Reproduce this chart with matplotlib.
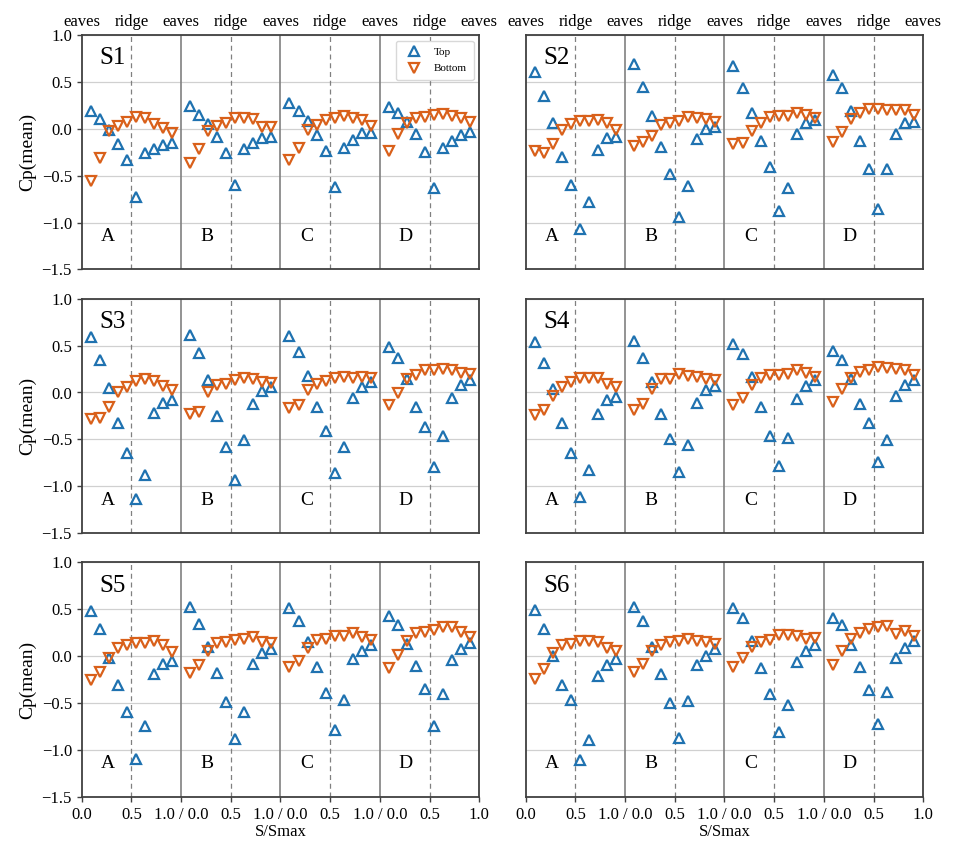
import numpy as np
import matplotlib
matplotlib.use("Agg")
import matplotlib.pyplot as plt
import matplotlib.transforms as mtransforms

plt.rcParams['font.family'] = ['Liberation Serif', 'DejaVu Serif']
plt.rcParams['mathtext.fontset'] = 'stix'

# positions along each segment (S/Smax)
s_pos = [1/11, 2/11, 3/11, 4/11, 5/11, 6/11, 7/11, 8/11, 9/11, 10/11]
segments = ["A", "B", "C", "D"]
cases = ["S1", "S2", "S3", "S4", "S5", "S6"]

# Cp(mean) values, per case, per segment (A, B, C, D)
top = {
    "S1": [[0.19, 0.10, -0.01, -0.16, -0.33, -0.73, -0.26, -0.22, -0.17, -0.15],
           [0.24, 0.15, 0.05, -0.09, -0.26, -0.60, -0.22, -0.15, -0.10, -0.085],
           [0.28, 0.19, 0.08, -0.07, -0.24, -0.62, -0.20, -0.12, -0.05, -0.04],
           [0.235, 0.165, 0.07, -0.06, -0.245, -0.63, -0.21, -0.13, -0.07, -0.035]],
    "S2": [[0.61, 0.35, 0.06, -0.30, -0.60, -1.07, -0.78, -0.23, -0.10, -0.09],
           [0.69, 0.45, 0.14, -0.19, -0.48, -0.94, -0.61, -0.11, 0.00, 0.02],
           [0.67, 0.43, 0.17, -0.13, -0.41, -0.88, -0.63, -0.06, 0.06, 0.09],
           [0.57, 0.44, 0.19, -0.135, -0.43, -0.86, -0.43, -0.06, 0.065, 0.07]],
    "S3": [[0.595, 0.35, 0.05, -0.32, -0.65, -1.14, -0.88, -0.22, -0.11, -0.08],
           [0.61, 0.42, 0.13, -0.25, -0.58, -0.93, -0.51, -0.12, 0.02, 0.06],
           [0.60, 0.43, 0.175, -0.15, -0.41, -0.86, -0.58, -0.06, 0.055, 0.115],
           [0.49, 0.37, 0.14, -0.15, -0.37, -0.79, -0.46, -0.055, 0.08, 0.13]],
    "S4": [[0.54, 0.31, 0.04, -0.32, -0.64, -1.11, -0.83, -0.225, -0.075, -0.045],
           [0.545, 0.365, 0.11, -0.23, -0.50, -0.85, -0.56, -0.115, 0.03, 0.07],
           [0.52, 0.415, 0.16, -0.155, -0.465, -0.78, -0.49, -0.07, 0.07, 0.13],
           [0.44, 0.345, 0.14, -0.12, -0.325, -0.74, -0.51, -0.04, 0.085, 0.13]],
    "S5": [[0.48, 0.29, -0.015, -0.31, -0.60, -1.10, -0.75, -0.19, -0.085, -0.05],
           [0.525, 0.345, 0.095, -0.185, -0.485, -0.88, -0.60, -0.08, 0.03, 0.075],
           [0.51, 0.375, 0.155, -0.12, -0.395, -0.785, -0.47, -0.035, 0.055, 0.12],
           [0.43, 0.335, 0.125, -0.11, -0.35, -0.745, -0.40, -0.04, 0.08, 0.135]],
    "S6": [[0.495, 0.29, 0.005, -0.31, -0.47, -1.11, -0.89, -0.215, -0.10, -0.03],
           [0.525, 0.375, 0.095, -0.19, -0.495, -0.87, -0.48, -0.09, 0.00, 0.08],
           [0.51, 0.405, 0.165, -0.13, -0.40, -0.81, -0.52, -0.065, 0.055, 0.12],
           [0.41, 0.335, 0.12, -0.12, -0.365, -0.725, -0.38, -0.02, 0.09, 0.16]],
}
bottom = {
    "S1": [[-0.56, -0.31, -0.02, 0.03, 0.075, 0.13, 0.11, 0.05, 0.01, -0.05],
           [-0.36, -0.22, -0.02, 0.03, 0.06, 0.11, 0.11, 0.10, 0.02, 0.02],
           [-0.33, -0.20, -0.01, 0.04, 0.09, 0.12, 0.14, 0.11, 0.09, 0.03],
           [-0.24, -0.06, 0.06, 0.11, 0.125, 0.145, 0.16, 0.14, 0.12, 0.07]],
    "S2": [[-0.24, -0.26, -0.16, -0.01, 0.05, 0.08, 0.08, 0.09, 0.06, -0.01],
           [-0.18, -0.14, -0.08, 0.04, 0.06, 0.085, 0.13, 0.11, 0.10, 0.075],
           [-0.16, -0.15, -0.02, 0.06, 0.13, 0.135, 0.14, 0.165, 0.15, 0.11],
           [-0.14, -0.035, 0.10, 0.17, 0.21, 0.21, 0.20, 0.20, 0.20, 0.145]],
    "S3": [[-0.285, -0.27, -0.15, 0.00, 0.055, 0.12, 0.145, 0.12, 0.07, 0.025],
           [-0.23, -0.21, 0.00, 0.08, 0.095, 0.13, 0.155, 0.14, 0.11, 0.10],
           [-0.17, -0.13, 0.03, 0.09, 0.12, 0.15, 0.165, 0.155, 0.17, 0.15],
           [-0.13, -0.01, 0.14, 0.185, 0.245, 0.235, 0.255, 0.235, 0.21, 0.195]],
    "S4": [[-0.235, -0.185, -0.04, 0.06, 0.11, 0.155, 0.15, 0.155, 0.095, 0.055],
           [-0.185, -0.12, 0.04, 0.14, 0.14, 0.195, 0.175, 0.16, 0.145, 0.135],
           [-0.135, -0.055, 0.075, 0.15, 0.19, 0.19, 0.20, 0.235, 0.21, 0.165],
           [-0.105, 0.04, 0.155, 0.22, 0.245, 0.275, 0.265, 0.255, 0.235, 0.185]],
    "S5": [[-0.26, -0.17, -0.02, 0.085, 0.115, 0.135, 0.14, 0.16, 0.115, 0.045],
           [-0.175, -0.10, 0.055, 0.14, 0.15, 0.175, 0.18, 0.20, 0.155, 0.135],
           [-0.115, -0.055, 0.085, 0.17, 0.185, 0.21, 0.215, 0.245, 0.20, 0.175],
           [-0.13, 0.015, 0.165, 0.245, 0.255, 0.28, 0.31, 0.315, 0.255, 0.20]],
    "S6": [[-0.245, -0.14, 0.035, 0.115, 0.13, 0.165, 0.165, 0.145, 0.085, 0.055],
           [-0.165, -0.085, 0.055, 0.12, 0.15, 0.165, 0.185, 0.165, 0.145, 0.13],
           [-0.12, -0.02, 0.10, 0.15, 0.175, 0.225, 0.22, 0.21, 0.18, 0.19],
           [-0.09, 0.055, 0.18, 0.25, 0.29, 0.315, 0.32, 0.24, 0.27, 0.215]],
}

x_ticks = [0, 0.5, 1, 1.5, 2, 2.5, 3, 3.5, 4]
x_ticklabels = ["0.0", "0.5", "1.0 / 0.0", "0.5", "1.0 / 0.0", "0.5", "1.0 / 0.0", "0.5", "1.0"]
top_labels = ["eaves", "ridge", "eaves", "ridge", "eaves", "ridge", "eaves", "ridge", "eaves"]
y_ticks = [-1.5, -1.0, -0.5, 0.0, 0.5, 1.0]

c_top = "#1f72b0"
c_bot = "#d9601a"

fig = plt.figure(figsize=(9.64, 8.47), dpi=100)
W, H = 964, 847
lefts = [81.7, 525.7]
tops = [35.0, 298.7, 562.3]
aw, ah = 397.5, 234.5

axes = []
for r in range(3):
    for c in range(2):
        ax = fig.add_axes([lefts[c] / W, 1 - (tops[r] + ah) / H, aw / W, ah / H])
        axes.append((r, c, ax))

for idx, (r, c, ax) in enumerate(axes):
    case = cases[idx]
    ax.set_xlim(0, 4)
    ax.set_ylim(-1.5, 1.0)
    ax.set_yticks(y_ticks)
    ax.grid(axis='y', color='#d0d0d0', linewidth=0.9, linestyle='-')
    ax.set_axisbelow(True)
    for k in range(1, 4):
        ax.axvline(k, color='#808080', linewidth=1.2, zorder=1)
    for k in range(4):
        ax.axvline(k + 0.5, color='#808080', linewidth=0.9, linestyle=(0, (4, 3)), zorder=1)
    for si, seg in enumerate(segments):
        xs = [si + s for s in s_pos]
        ax.plot(xs, top[case][si], linestyle='none', marker='^', ms=6.8,
                mfc='none', mec=c_top, mew=1.6, zorder=3,
                label='Top' if si == 0 else None)
        ax.plot(xs, bottom[case][si], linestyle='none', marker='v', ms=6.8,
                mfc='none', mec=c_bot, mew=1.6, zorder=3,
                label='Bottom' if si == 0 else None)
        ax.text(si + 0.26, -1.15, seg, fontsize=14, ha='center', va='center')
    ax.text(0.31, 0.75, case, fontsize=18, ha='center', va='center')
    for sp in ax.spines.values():
        sp.set_color('#404040')
        sp.set_linewidth(1.3)
    ax.tick_params(axis='both', direction='out', length=3.5, width=1.0,
                   color='#404040', labelsize=12)
    ax.set_xticks(x_ticks)
    if r == 2:
        ax.set_xticklabels(x_ticklabels)
        ax.set_xlabel("S/Smax", fontsize=12, labelpad=1)
    else:
        ax.set_xticklabels([])
        ax.tick_params(axis='x', length=0)
    if c == 0:
        ax.set_ylabel("Cp(mean)", fontsize=14, labelpad=4)
    else:
        ax.set_yticklabels([])
        ax.tick_params(axis='y', length=0)
    if r == 0:
        trans = mtransforms.blended_transform_factory(ax.transData, ax.transAxes)
        for xt, lab in zip(x_ticks, top_labels):
            ax.text(xt, 1.02, lab, transform=trans, fontsize=12,
                    ha='center', va='bottom')
    if idx == 0:
        ax.legend(loc='upper right', fontsize=8, frameon=True,
                  framealpha=1.0, edgecolor='#d8d8d8', borderpad=0.6,
                  handletextpad=0.8, labelspacing=0.6, markerscale=1.0)

fig.savefig("out.png", dpi=100)
